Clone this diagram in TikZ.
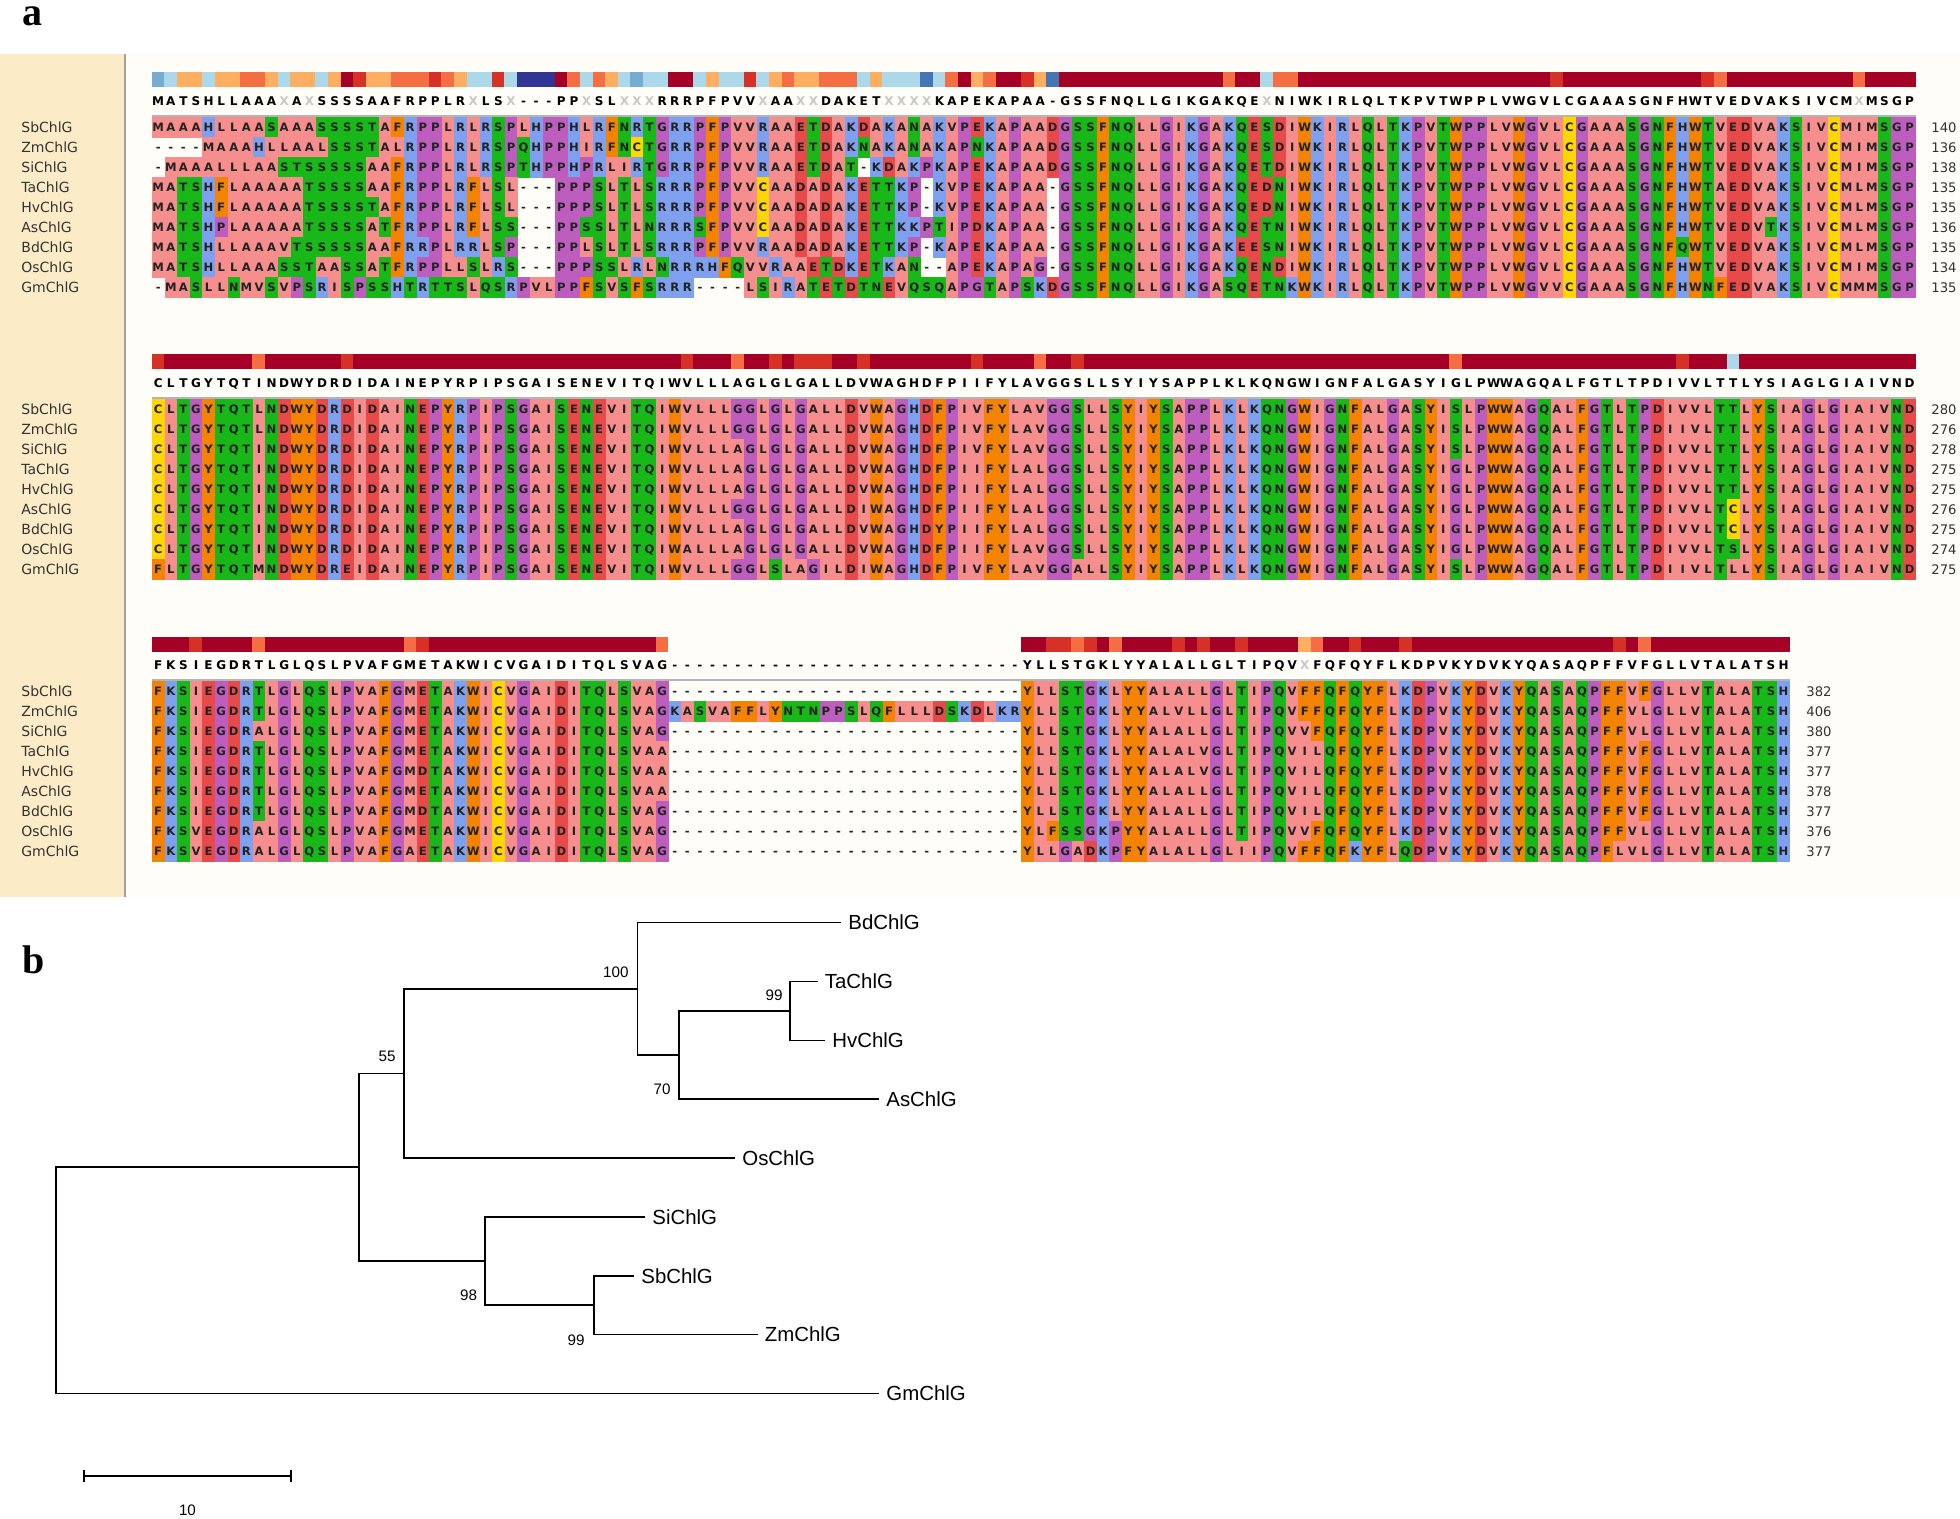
\documentclass[tikz,border=0pt]{standalone}
\usepackage{fontspec}
\setmainfont{DejaVu Sans}
\newfontfamily\lsans{Liberation Sans}
\newfontfamily\lserif{Liberation Serif}
\definecolor{zPk}{HTML}{F78E8E}
\definecolor{zOr}{HTML}{F38300}
\definecolor{zBl}{HTML}{7EA0EF}
\definecolor{zRd}{HTML}{E84A4A}
\definecolor{zGn}{HTML}{17B817}
\definecolor{zPu}{HTML}{BD5EBE}
\definecolor{zYe}{HTML}{FFD700}
\definecolor{letcol}{HTML}{222222}
\definecolor{xcol}{HTML}{C8C8C8}
\definecolor{barN}{HTML}{313695}
\definecolor{barB}{HTML}{4575B4}
\definecolor{barM}{HTML}{74ADD1}
\definecolor{barL}{HTML}{ABD9E9}
\definecolor{barO}{HTML}{FDAE61}
\definecolor{barQ}{HTML}{F46D43}
\definecolor{barR}{HTML}{D73027}
\definecolor{barD}{HTML}{A50026}
\definecolor{panelbg}{HTML}{FFFDF7}
\definecolor{labbg}{HTML}{FCEBC7}
\definecolor{divcol}{HTML}{A0A0A0}
\definecolor{sepcol}{HTML}{B4B4B4}
\definecolor{labtext}{HTML}{333333}
\newlength\cw \setlength\cw{6.3pt}
\newlength\cwx \setlength\cwx{6.5pt}
\makeatletter
\def\rc@set#1#2{\expandafter\def\csname rc@#1\endcsname{#2}}
\rc@set A{zPk}\rc@set I{zPk}\rc@set L{zPk}\rc@set M{zPk}\rc@set V{zPk}
\rc@set F{zOr}\rc@set W{zOr}\rc@set Y{zOr}
\rc@set K{zBl}\rc@set R{zBl}\rc@set H{zBl}
\rc@set D{zRd}\rc@set E{zRd}
\rc@set S{zGn}\rc@set T{zGn}\rc@set N{zGn}\rc@set Q{zGn}
\rc@set P{zPu}\rc@set G{zPu}
\rc@set C{zYe}
\def\seqstrut{\rule[-3.3pt]{0pt}{10.2pt}}
\def\resrow#1{\seqstrut\edef\res@tmp{#1}\expandafter\res@loop\res@tmp\@nil}
\def\res@loop#1{\ifx\@nil#1\else\res@box#1\expandafter\res@loop\fi}
\def\res@box#1{\@ifundefined{rc@#1}{\makebox[\cw]{\color{letcol}#1}}{\rlap{\color{\csname rc@#1\endcsname}\rule[-3.3pt]{\cwx}{10.2pt}}\makebox[\cw]{\color{letcol}#1}}}
\def\conrow#1{\seqstrut\edef\res@tmp{#1}\expandafter\con@loop\res@tmp\@nil}
\def\con@loop#1{\ifx\@nil#1\else\con@box#1\expandafter\con@loop\fi}
\def\con@box#1{\ifx X#1\makebox[\cw]{\color{xcol}X}\else\makebox[\cw]{#1}\fi}
\makeatother
\def\gseven{-------}
\def\gapx{\gseven\gseven\gseven\gseven}
\newcommand\resfont{\bfseries\fontsize{5.8}{6}\selectfont}
\newcommand\confont{\bfseries\fontsize{6}{7}\selectfont}
\newcommand\barcells[3]{\foreach \cc/\bk in {#3}{\fill[fill=bar\bk] ({151.5+(\cc-1)*12.6},#1) rectangle ({151.5+\cc*12.6},#2);}}
\tikzset{
 seqrow/.style={anchor=west,inner sep=0pt,font=\resfont},
 conrowst/.style={anchor=west,inner sep=0pt,font=\confont},
 seqlab/.style={anchor=west,inner sep=0pt,font=\fontsize{7}{8}\selectfont,text=labtext},
 numlab/.style={anchor=west,inner sep=0pt,font=\fontsize{6.6}{8}\selectfont,text=labtext},
 sepline/.style={draw=sepcol,line width=1.2pt},
 tree/.style={line width=0.75pt,black},
 leaf/.style={anchor=west,inner xsep=3.5pt,inner ysep=0pt,font=\lsans\fontsize{10.2}{12}\selectfont},
 boot/.style={anchor=east,inner sep=0pt,font=\lsans\fontsize{7.6}{9}\selectfont},
 panlab/.style={inner sep=0pt,font=\lserif\bfseries\fontsize{20}{22}\selectfont},
}
\begin{document}
\begin{tikzpicture}[x=0.5pt,y=-0.5pt]
\useasboundingbox (0,0) rectangle (1960,1519);
\fill[white] (0,0) rectangle (1960,1519);
\fill[panelbg] (0,54) rectangle (1960,897);
\fill[labbg] (0,54) rectangle (125,897);
\draw[draw=divcol,line width=0.8pt] (125,54) -- (125,897);
\node[panlab] (pa) at (33,16) {a};
\node[panlab] (pb) at (34,960) {b};
% ---------- conservation bars
\fill[barD] (151.5,72.5) rectangle (1915.5,87.5);
\barcells{72.5}{87.5}{1/M,2/L,3/O,4/O,5/L,6/O,7/O,8/Q,9/Q,10/O,11/L,12/O,13/O,14/L,15/O,17/R,18/O,19/O,20/Q,21/Q,22/Q,23/R,24/Q,25/O,26/L,27/L,28/R,29/L,30/N,31/N,32/N,34/Q,35/L,36/Q,37/O,38/L,39/M,40/L,41/L,44/L,45/O,46/L,47/L,48/R,49/L,50/O,51/Q,52/O,53/O,54/Q,55/Q,56/Q,57/L,58/O,59/L,60/L,61/L,62/B,63/L,64/Q,66/O,67/Q,70/R,71/O,72/B,86/Q,89/L,90/Q,91/Q,112/R,124/R,125/Q,136/Q}
\fill[barD] (151.5,354.5) rectangle (1915.5,369.5);
\barcells{354.5}{369.5}{1/R,9/Q,16/R,43/R,47/Q,50/R,52/R,53/R,54/R,57/R,66/R,71/Q,74/R,104/Q,122/R,126/L}
\fill[barD] (151.5,636.5) rectangle (668.1,651.5);
\fill[barD] (1020.9,636.5) rectangle (1789.5,651.5);
\barcells{636.5}{651.5}{4/R,9/Q,21/Q,22/R,41/Q,72/R,73/R,74/Q,75/R,77/Q,82/R,84/R,87/R,92/O,93/Q,96/R,100/R,117/R,119/Q}
% ---------- consensus rows
\node[conrowst] (c1) at (151.5,101.5) {\conrow{MATSHLLAAAXAXSSSSAAFRPPLRXLSX---PPXSLXXXRRRPFPVVXAAXXDAKETXXXXKAPEKAPAA-GSSFNQLLGIKGAKQEXNIWKIRLQLTKPVTWPPLVWGVLCGAAASGNFHWTVEDVAKSIVCMXMSGP}};
\node[conrowst] (c2) at (151.5,383.5) {\conrow{CLTGYTQTINDWYDRDIDAINEPYRPIPSGAISENEVITQIWVLLLAGLGLGALLDVWAGHDFPIIFYLAVGGSLLSYIYSAPPLKLKQNGWIGNFALGASYIGLPWWAGQALFGTLTPDIVVLTTLYSIAGLGIAIVND}};
\node[conrowst] (c3) at (151.5,665.5) {\conrow{FKSIEGDRTLGLQSLPVAFGMETAKWICVGAIDITQLSVAG\gapx YLLSTGKLYYALALLGLTIPQVXFQFQYFLKDPVKYDVKYQASAQPFFVFGLLVTALATSH}};
\draw[sepline] (151.5,116) -- (1915.5,116);
\draw[sepline] (151.5,398) -- (1915.5,398);
\draw[sepline] (151.5,680) -- (1789.5,680);
% ---------- block 1
\node[seqrow] (b1Sb) at (151.5,127.5) {\resrow{MAAAHLLAASAAASSSSTAFRPPLRLRSPLHPPHLRFNRTGRRPFPVVRAAETDAKDAKANAKVPEKAPAADGSSFNQLLGIKGAKQESDIWKIRLQLTKPVTWPPLVWGVLCGAAASGNFHWTVEDVAKSIVCMIMSGP}};
\node[seqrow] (b1Zm) at (151.5,147.5) {\resrow{----MAAAHLLAALSSSTALRPPLRLRSPQHPPHIRFNCTGRRPFPVVRAAETDAKNAKANAKAPNKAPAADGSSFNQLLGIKGAKQESDIWKIRLQLTKPVTWPPLVWGVLCGAAASGNFHWTVEDVAKSIVCMIMSGP}};
\node[seqrow] (b1Si) at (151.5,167.5) {\resrow{-MAAALLLAASTSSSSSAAFRPPLRLRSPTHPPHPRLIRTGRRPFPVVRAAETDAT-KDAKPKAPEKAPAADGSSFNQLLGIKGAKQETDIWKIRLQLTKPVTWPPLVWGVLCGAAASGNFHWTVEDVAKSIVCMIMSGP}};
\node[seqrow] (b1Ta) at (151.5,187.5) {\resrow{MATSHFLAAAAATSSSSAAFRPPLRFLSL---PPPSLTLSRRRPFPVVCAADADAKETTKP-KVPEKAPAA-GSSFNQLLGIKGAKQEDNIWKIRLQLTKPVTWPPLVWGVLCGAAASGNFHWTAEDVAKSIVCMLMSGP}};
\node[seqrow] (b1Hv) at (151.5,207.5) {\resrow{MATSHFLAAAAATSSSSTAFRPPLRFLSL---PPPSLTLSRRRPFPVVCAADADAKETTKP-KVPEKAPAA-GSSFNQLLGIKGAKQEDNIWKIRLQLTKPVTWPPLVWGVLCGAAASGNFHWTVEDVAKSIVCMLMSGP}};
\node[seqrow] (b1As) at (151.5,227.5) {\resrow{MATSHPLAAAAATSSSSATFRPPLRFLSS---PPSSLTLNRRRSFPVVCAADADAKETTKKPTIPDKAPAA-GSSFNQLLGIKGAKQETNIWKIRLQLTKPVTWPPLVWGVLCGAAASGNFHWTVEDVTKSIVCMLMSGP}};
\node[seqrow] (b1Bd) at (151.5,247.5) {\resrow{MATSHLLAAAVTSSSSSAAFRRPLRRLSP---PPLSLTLSRRRPFPVVRAADADAKETTKP-KAPEKAPAA-GSSFNQLLGIKGAKEESNIWKIRLQLTKPVTWPPLVWGVLCGAAASGNFQWTVEDVAKSIVCMLMSGP}};
\node[seqrow] (b1Os) at (151.5,267.5) {\resrow{MATSHLLAAASSTAASSATFRPPLLSLRS---PPPSSLRLNRRRHFQVVRAAETDKETKAN--APEKAPAG-GSSFNQLLGIKGAKQENDIWKIRLQLTKPVTWPPLVWGVLCGAAASGNFHWTVEDVAKSIVCMIMSGP}};
\node[seqrow] (b1Gm) at (151.5,287.5) {\resrow{-MASLLNMVSVPSRISPSSHTRTTSLQSRPVLPPFSVSFSRRR----LSIRATETDTNEVQSQAPGTAPSKDGSSFNQLLGIKGASQETNKWKIRLQLTKPVTWPPLVWGVVCGAAASGNFHWNFEDVAKSIVCMMMSGP}};
% ---------- block 2
\node[seqrow] (b2Sb) at (151.5,409.5) {\resrow{CLTGYTQTLNDWYDRDIDAINEPYRPIPSGAISENEVITQIWVLLLGGLGLGALLDVWAGHDFPIVFYLAVGGSLLSYIYSAPPLKLKQNGWIGNFALGASYISLPWWAGQALFGTLTPDIVVLTTLYSIAGLGIAIVND}};
\node[seqrow] (b2Zm) at (151.5,429.5) {\resrow{CLTGYTQTLNDWYDRDIDAINEPYRPIPSGAISENEVITQIWVLLLGGLGLGALLDVWAGHDFPIVFYLAVGGSLLSYIYSAPPLKLKQNGWIGNFALGASYISLPWWAGQALFGTLTPDIIVLTTLYSIAGLGIAIVND}};
\node[seqrow] (b2Si) at (151.5,449.5) {\resrow{CLTGYTQTINDWYDRDIDAINEPYRPIPSGAISENEVITQIWVLLLAGLGLGALLDVWAGHDFPIVFYLAVGGSLLSYIYSAPPLKLKQNGWIGNFALGASYISLPWWAGQALFGTLTPDIVVLTTLYSIAGLGIAIVND}};
\node[seqrow] (b2Ta) at (151.5,469.5) {\resrow{CLTGYTQTINDWYDRDIDAINEPYRPIPSGAISENEVITQIWVLLLAGLGLGALLDVWAGHDFPIIFYLALGGSLLSYIYSAPPLKLKQNGWIGNFALGASYIGLPWWAGQALFGTLTPDIVVLTTLYSIAGLGIAIVND}};
\node[seqrow] (b2Hv) at (151.5,489.5) {\resrow{CLTGYTQTINDWYDRDIDAINEPYRPIPSGAISENEVITQIWVLLLAGLGLGALLDVWAGHDFPIIFYLALGGSLLSYIYSAPPLKLKQNGWIGNFALGASYIGLPWWAGQALFGTLTPDIVVLTTLYSIAGLGIAIVND}};
\node[seqrow] (b2As) at (151.5,509.5) {\resrow{CLTGYTQTINDWYDRDIDAINEPYRPIPSGAISENEVITQIWVLLLGGLGLGALLDIWAGHDFPIIFYLALGGSLLSYIYSAPPLKLKQNGWIGNFALGASYIGLPWWAGQALFGTLTPDIVVLTCLYSIAGLGIAIVND}};
\node[seqrow] (b2Bd) at (151.5,529.5) {\resrow{CLTGYTQTINDWYDRDIDAINEPYRPIPSGAISENEVITQIWVLLLAGLGLGALLDVWAGHDYPIIFYLALGGSLLSYIYSAPPLKLKQNGWIGNFALGASYIGLPWWAGQALFGTLTPDIVVLTCLYSIAGLGIAIVND}};
\node[seqrow] (b2Os) at (151.5,549.5) {\resrow{CLTGYTQTINDWYDRDIDAINEPYRPIPSGAISENEVITQIWALLLAGLGLGALLDVWAGHDFPIIFYLAVGGSLLSYIYSAPPLKLKQNGWIGNFALGASYIGLPWWAGQALFGTLTPDIVVLTSLYSIAGLGIAIVND}};
\node[seqrow] (b2Gm) at (151.5,569.5) {\resrow{FLTGYTQTMNDWYDREIDAINEPYRPIPSGAISENEVITQIWVLLLGGLSLAGILDIWAGHDFPIVFYLAVGGALLSYIYSAPPLKLKQNGWIGNFALGASYISLPWWAGQALFGTLTPDIIVLTLLYSIAGLGIAIVND}};
% ---------- block 3
\node[seqrow] (b3Sb) at (151.5,691.5) {\resrow{FKSIEGDRTLGLQSLPVAFGMETAKWICVGAIDITQLSVAG\gapx YLLSTGKLYYALALLGLTIPQVFFQFQYFLKDPVKYDVKYQASAQPFFVFGLLVTALATSH}};
\node[seqrow] (b3Zm) at (151.5,711.5) {\resrow{FKSIEGDRTLGLQSLPVAFGMETAKWICVGAIDITQLSVAGKASVAFFLYNTNPPSLQFLLLDSKDLKRYLLSTGKLYYALVLLGLTIPQVFFQFQYFLKDPVKYDVKYQASAQPFFVLGLLVTALATSH}};
\node[seqrow] (b3Si) at (151.5,731.5) {\resrow{FKSIEGDRALGLQSLPVAFGMETAKWICVGAIDITQLSVAG\gapx YLLSTGKLYYALALLGLTIPQVVFQFQYFLKDPVKYDVKYQASAQPFFVLGLLVTALATSH}};
\node[seqrow] (b3Ta) at (151.5,751.5) {\resrow{FKSIEGDRTLGLQSLPVAFGMETAKWICVGAIDITQLSVAA\gapx YLLSTGKLYYALALVGLTIPQVILQFQYFLKDPVKYDVKYQASAQPFFVFGLLVTALATSH}};
\node[seqrow] (b3Hv) at (151.5,771.5) {\resrow{FKSIEGDRTLGLQSLPVAFGMDTAKWICVGAIDITQLSVAA\gapx YLLSTGKLYYALALVGLTIPQVILQFQYFLKDPVKYDVKYQASAQPFFVFGLLVTALATSH}};
\node[seqrow] (b3As) at (151.5,791.5) {\resrow{FKSIEGDRTLGLQSLPVAFGMETAKWICVGAIDITQLSVAA\gapx YLLSTGKLYYALALLGLTIPQVILQFQYFLKDPVKYDVKYQASAQPFFVFGLLVTALATSH}};
\node[seqrow] (b3Bd) at (151.5,811.5) {\resrow{FKSIEGDRTLGLQSLPVAFGMDTAKWICVGAIDITQLSVAG\gapx YLLSTGKLYYALALLGLTIPQVILQFQYFLKDPVKYDVKYQASAQPFFVFGLLVTALATSH}};
\node[seqrow] (b3Os) at (151.5,831.5) {\resrow{FKSVEGDRALGLQSLPVAFGMETAKWICVGAIDITQLSVAG\gapx YLFSSGKPYYALALLGLTIPQVVFQFQYFLKDPVKYDVKYQASAQPFFVLGLLVTALATSH}};
\node[seqrow] (b3Gm) at (151.5,851.5) {\resrow{FKSVEGDRALGLQSLPVAFGAETAKWICVGAIDITQLSVAG\gapx YLLGADKPFYALALLGLIIPQVFFQFKYFLQDPVKYDVKYQASAQPFLVLGLLVTALATSH}};
% ---------- labels and counts
\foreach \nm [count=\i from 0] in {Sb,Zm,Si,Ta,Hv,As,Bd,Os,Gm}{
  \foreach \b in {0,1,2}{\node[seqlab] (lab\b\nm) at (21,{127.5+282*\b+20*\i}) {\nm ChlG};}}
\foreach \i/\v in {0/140,1/136,2/138,3/135,4/135,5/136,6/135,7/134,8/135}{\node[numlab] (numa\i) at (1931,{127.5+20*\i}) {\v};}
\foreach \i/\v in {0/280,1/276,2/278,3/275,4/275,5/276,6/275,7/274,8/275}{\node[numlab] (numb\i) at (1931,{409.5+20*\i}) {\v};}
\foreach \i/\v in {0/382,1/406,2/380,3/377,4/377,5/378,6/377,7/376,8/377}{\node[numlab] (numc\i) at (1806,{691.5+20*\i}) {\v};}
% ---------- tree
\coordinate (root) at (56,1280.4);
\coordinate (nA) at (359,1167.2);
\coordinate (n55) at (404,1073.4);
\coordinate (n100) at (637.5,988.75);
\coordinate (n70) at (679,1055);
\coordinate (n99a) at (790,1010.9);
\coordinate (n98) at (485,1261);
\coordinate (n99b) at (594,1305.2);
\node[leaf] (Bd) at (841,922.5) {BdChlG};
\node[leaf] (Ta) at (817.5,981.4) {TaChlG};
\node[leaf] (Hv) at (825,1040.3) {HvChlG};
\node[leaf] (As) at (879,1099.1) {AsChlG};
\node[leaf] (Os) at (735,1158) {OsChlG};
\node[leaf] (Si) at (645,1216.9) {SiChlG};
\node[leaf] (Sb) at (634,1275.8) {SbChlG};
\node[leaf] (Zm) at (757.5,1334.6) {ZmChlG};
\node[leaf] (Gm) at (879,1393.5) {GmChlG};
\draw[tree] (root) |- (nA);
\draw[tree] (root) |- (Gm.west);
\draw[tree] (nA) |- (n55);
\draw[tree] (nA) |- (n98);
\draw[tree] (n55) |- (n100);
\draw[tree] (n55) |- (Os.west);
\draw[tree] (n100) |- (Bd.west);
\draw[tree] (n100) |- (n70);
\draw[tree] (n70) |- (n99a);
\draw[tree] (n70) |- (As.west);
\draw[tree] (n99a) |- (Ta.west);
\draw[tree] (n99a) |- (Hv.west);
\draw[tree] (n98) |- (Si.west);
\draw[tree] (n98) |- (n99b);
\draw[tree] (n99b) |- (Sb.west);
\draw[tree] (n99b) |- (Zm.west);
\node[boot] (bs100) at (629,972.5) {100};
\node[boot] (bs99a) at (783,995) {99};
\node[boot] (bs70) at (671,1089) {70};
\node[boot] (bs55) at (396,1056) {55};
\node[boot] (bs98) at (477.5,1295) {98};
\node[boot] (bs99b) at (585,1340) {99};
% scale bar
\coordinate (sL) at (84,1476);
\coordinate (sR) at (291,1476);
\draw[tree] (sL) -- (sR);
\draw[tree] (84,1470) -- (84,1482);
\draw[tree] (291,1470) -- (291,1482);
\node[boot,anchor=center] (slab) at (187.5,1510) {10};
\end{tikzpicture}
\end{document}
